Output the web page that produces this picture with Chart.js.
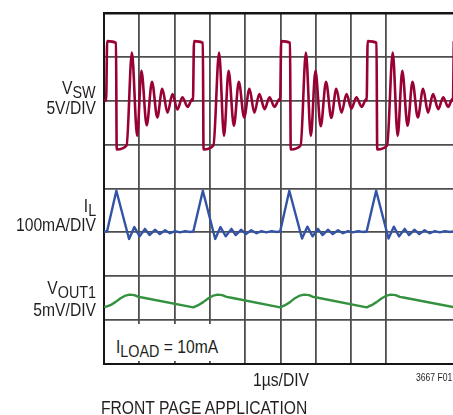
<!DOCTYPE html>
<html>
<head>
<meta charset="utf-8">
<script src="https://cdn.jsdelivr.net/npm/chart.js@4.4.1/dist/chart.umd.min.js"></script>
<style>
    html, body { margin: 0; padding: 0; background: #fff; overflow: hidden; }
    #wrap {
        position: relative; width: 453px; height: 415px;
        font-family: "Liberation Sans", Arial, sans-serif;
        color: #231f20;
    }
    #scope { position: absolute; left: 0; top: 0; }
    /* the datasheet font is a condensed sans, squeeze the regular one */
    .lbl {
        position: absolute; white-space: nowrap; line-height: 1; font-size: 18px;
        transform: scaleX(0.87); transform-origin: left center;
    }
    .r { right: 357px; text-align: right; transform-origin: right center; }
    .c { transform-origin: center center; }
    .lbl sub { font-size: 16.5px; vertical-align: baseline; position: relative; top: 4px; }
    #loadBox { position: absolute; left: 106px; top: 324px; width: 118px; height: 37px; background: #fff; }
</style>
</head>
<body>
<div id="wrap">
    <canvas id="scope" width="453" height="415"></canvas>

    <div class="lbl r" style="top:79px">V<sub>SW</sub></div>
    <div class="lbl r" style="top:99px">5V/DIV</div>
    <div class="lbl r" style="top:197px">I<sub>L</sub></div>
    <div class="lbl r" style="top:216px">100mA/DIV</div>
    <div class="lbl r" style="top:279px">V<sub>OUT1</sub></div>
    <div class="lbl r" style="top:301px">5mV/DIV</div>

    <div id="loadBox"></div>
    <div class="lbl" style="left:116px; top:338px">I<sub>LOAD</sub> = 10mA</div>

    <div class="lbl c" style="left:231px; width:100px; text-align:center; top:371px">1µs/DIV</div>
    <div class="lbl" style="left:416px; top:372px; font-size:10.5px; transform:scaleX(0.82)">3667 F01</div>
    <div class="lbl" style="left:101px; top:399px">FRONT PAGE APPLICATION</div>
</div>

<script>
// time axis in µs (1µs/DIV), values in screen divisions (0 = bottom, 8 = top)
const X_MAX = 9.887;

// V_SW trace (5V/DIV, ground at 6 div)
const vswTime = [
    0, 0.06, 0.09, 0.34, 0.36, 0.64, 0.79, 0.94, 1.06, 1.21, 1.36, 1.51, 1.65, 1.80, 1.94, 2.08, 2.22, 2.37, 2.50,
    2.52, 2.55, 2.80, 2.82, 3.10, 3.26, 3.40, 3.53, 3.68, 3.82, 3.97, 4.12, 4.26, 4.40, 4.55, 4.69, 4.83, 4.97,
    4.99, 5.02, 5.27, 5.29, 5.57, 5.72, 5.86, 5.99, 6.14, 6.29, 6.44, 6.58, 6.73, 6.87, 7.01, 7.15, 7.30, 7.43,
    7.44, 7.47, 7.72, 7.74, 8.02, 8.18, 8.32, 8.45, 8.60, 8.74, 8.89, 9.04, 9.18, 9.32, 9.47, 9.61, 9.75, 9.87,
    9.885, 9.91,
];
const vswDiv = [
    6.02, 6.00, 7.36, 7.32, 4.89, 4.98, 7.10, 5.20, 6.68, 5.44, 6.43, 5.62, 6.27, 5.73, 6.15, 5.80, 6.08, 5.86, 6.04,
    6.00, 7.36, 7.32, 4.89, 4.98, 7.10, 5.20, 6.68, 5.43, 6.43, 5.62, 6.27, 5.73, 6.15, 5.81, 6.08, 5.86, 6.04,
    6.00, 7.36, 7.32, 4.89, 4.98, 7.10, 5.20, 6.68, 5.42, 6.43, 5.61, 6.27, 5.73, 6.15, 5.82, 6.08, 5.86, 6.04,
    6.00, 7.36, 7.32, 4.89, 4.98, 7.10, 5.20, 6.68, 5.43, 6.43, 5.62, 6.27, 5.73, 6.15, 5.81, 6.08, 5.86, 6.04,
    6.00, 7.36,
];

// I_L trace (100mA/DIV, zero at 3 div)
const ilTime = [
    0, 0.085, 0.35, 0.71, 0.86, 1.01, 1.16, 1.29, 1.45, 1.58, 1.73, 1.87, 2.01, 2.15, 2.30, 2.43,
    2.53, 2.80, 3.15, 3.30, 3.45, 3.61, 3.73, 3.89, 4.02, 4.17, 4.32, 4.46, 4.60, 4.75, 4.88,
    4.99, 5.25, 5.61, 5.76, 5.91, 6.06, 6.19, 6.35, 6.48, 6.63, 6.77, 6.91, 7.05, 7.20, 7.33,
    7.44, 7.71, 8.06, 8.21, 8.36, 8.52, 8.64, 8.80, 8.93, 9.08, 9.23, 9.37, 9.51, 9.66, 9.79, 9.90,
];
const ilDiv = [
    3.02, 3.02, 3.95, 2.85, 3.12, 2.91, 3.08, 2.94, 3.06, 2.96, 3.05, 2.98, 3.03, 3.00, 3.03, 3.01,
    3.02, 3.95, 2.85, 3.12, 2.91, 3.08, 2.94, 3.06, 2.96, 3.05, 2.98, 3.03, 3.00, 3.03, 3.01,
    3.02, 3.95, 2.86, 3.13, 2.91, 3.08, 2.94, 3.06, 2.96, 3.05, 2.98, 3.03, 3.00, 3.03, 3.01,
    3.02, 3.95, 2.86, 3.13, 2.91, 3.08, 2.94, 3.06, 2.96, 3.05, 2.98, 3.03, 3.00, 3.03, 3.01, 3.02,
];

// V_OUT1 ripple (5mV/DIV)
const voutTime = [
    0, 0.04, 0.18, 0.32, 0.47, 0.61, 0.72, 0.86, 0.98, 1.12,
    2.53, 2.67, 2.81, 2.96, 3.10, 3.21, 3.35, 3.47, 3.61,
    4.99, 5.13, 5.27, 5.41, 5.55, 5.67, 5.81, 5.92, 6.06,
    7.44, 7.58, 7.72, 7.87, 8.01, 8.12, 8.26, 8.38, 8.52,
    9.89,
];
const voutDiv = [
    1.31, 1.30, 1.34, 1.41, 1.50, 1.56, 1.58, 1.57, 1.53, 1.51,
    1.29, 1.34, 1.41, 1.50, 1.56, 1.58, 1.57, 1.53, 1.51,
    1.29, 1.34, 1.41, 1.50, 1.56, 1.58, 1.57, 1.53, 1.51,
    1.29, 1.34, 1.41, 1.50, 1.56, 1.58, 1.57, 1.53, 1.51,
    1.30,
];

function toPoints(xs, ys) {
    return xs.map((x, i) => ({ x: x, y: ys[i] }));
}

const gridGray = "#4e4e4e";
const frame = "#151515";

const ctx = document.getElementById("scope").getContext("2d");
new Chart(ctx, {
    type: "line",
    data: {
        datasets: [
            {
                label: "VSW",
                data: toPoints(vswTime, vswDiv),
                borderColor: "#990033",
                borderWidth: 2.6,
                cubicInterpolationMode: "monotone",
                pointRadius: 0,
                clip: 0,
            },
            {
                label: "IL",
                data: toPoints(ilTime, ilDiv),
                borderColor: "#3353a5",
                borderWidth: 2.4,
                pointRadius: 0,
                borderJoinStyle: "round",
                clip: 0,
            },
            {
                label: "VOUT1",
                data: toPoints(voutTime, voutDiv),
                borderColor: "#33913f",
                borderWidth: 2.4,
                pointRadius: 0,
                borderJoinStyle: "round",
                clip: 0,
            },
        ],
    },
    options: {
        responsive: false,
        animation: false,
        events: [],
        layout: {
            padding: { left: 104, top: 13, right: 0, bottom: 51 },
        },
        plugins: {
            legend: { display: false },
            tooltip: { enabled: false },
        },
        scales: {
            x: {
                type: "linear",
                min: 0,
                max: X_MAX,
                ticks: { display: false, stepSize: 1 },
                grid: {
                    drawTicks: false,
                    color: (c) => (Number.isInteger(c.tick.value) ? gridGray : "rgba(0,0,0,0)"),
                    lineWidth: 1.8,
                },
                border: { color: frame, width: 2 },
            },
            y: {
                min: 0,
                max: 8,
                ticks: { display: false, stepSize: 1 },
                grid: {
                    drawTicks: false,
                    color: (c) => (c.tick.value === 8 ? frame : gridGray),
                    lineWidth: (c) => (c.tick.value === 8 ? 2.5 : 1.8),
                },
                border: { color: frame, width: 2 },
            },
        },
    },
});
</script>
</body>
</html>
